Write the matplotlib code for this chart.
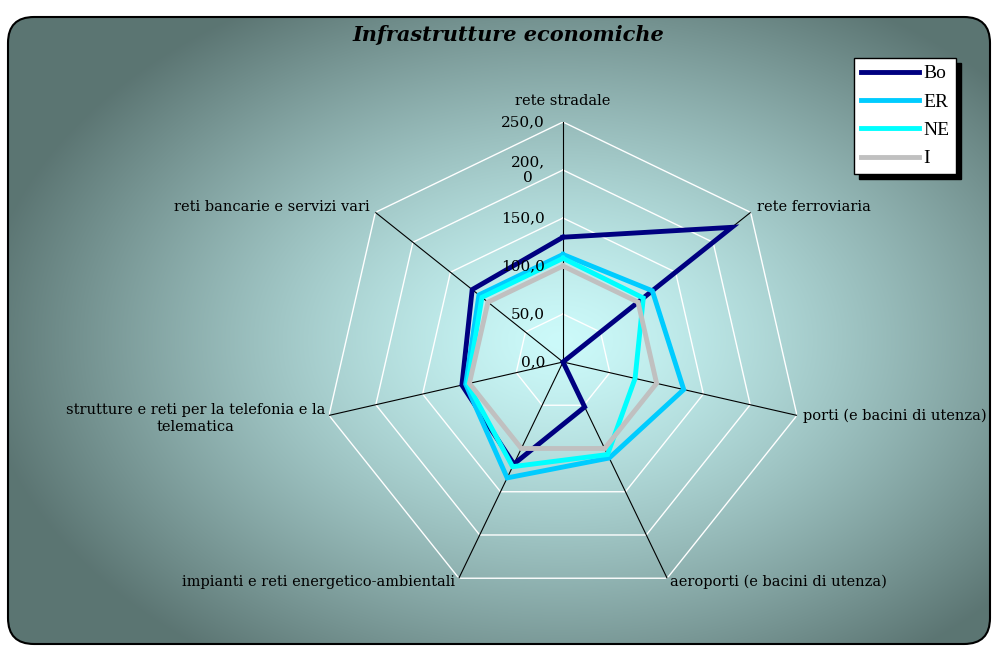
import matplotlib
matplotlib.use("Agg")
import matplotlib.pyplot as plt
from matplotlib.patches import FancyBboxPatch
import numpy as np

# ── Dati ──────────────────────────────────────────
categorie = [
    "rete stradale",
    "rete ferroviaria",
    "porti (e bacini di utenza)",
    "aeroporti (e bacini di utenza)",
    "impianti e reti energetico-ambientali",
    "strutture e reti per la telefonia e la\ntelematica",
    "reti bancarie e servizi vari",
]
bo = [130, 225, 0, 52, 118, 108, 121]
er = [112, 119, 129, 111, 134, 104, 112]
ne = [108, 107, 77, 107, 121, 102, 108]
italia = [100, 100, 100, 100, 100, 100, 100]
serie_nomi = ["Bo", "ER", "NE", "I"]
serie_colori = ["#000080", "#00ccff", "#00ffff", "#c0c0c0"]
anelli = [50, 100, 150, 200, 250]
anelli_label = ["50,0", "100,0", "150,0", "200,\n0", "250,0"]
titolo = "Infrastrutture economiche"

SERIF = "DejaVu Serif"
W, H = 992, 646

fig = plt.figure(figsize=(W / 100, H / 100), dpi=100)
fig.patch.set_facecolor("white")

# ── Sfondo con gradiente radiale ─────────────────
bg = fig.add_axes([0, 0, 1, 1])
bg.set_xlim(0, W)
bg.set_ylim(H, 0)
bg.axis("off")
yy, xx = np.mgrid[0:H, 0:W]
d = np.sqrt(((xx - 560) / 580.0) ** 2 + ((yy - 340) / 390.0) ** 2)
d = np.clip(d, 0, 1)
c_in = np.array([0.80, 0.98, 0.98])
c_out = np.array([0.36, 0.46, 0.45])
t = d[..., None] ** 1.3
img = c_in * (1 - t) + c_out * t
im = bg.imshow(img, extent=(0, W, H, 0), zorder=0)
box = FancyBboxPatch((8, 17), 982, 627,
                     boxstyle="round,pad=0,rounding_size=26",
                     facecolor="none", edgecolor="black", linewidth=1.5, zorder=2)
bg.add_patch(box)
im.set_clip_path(box)

bg.text(508, 35, titolo, ha="center", va="center", fontsize=15,
        fontweight="bold", fontstyle="italic", family=SERIF, color="black")

# ── Radar ────────────────────────────────────────
cx, cy, R = 563, 362, 240
ax = fig.add_axes([(cx - R) / W, 1 - (cy + R) / H, 2 * R / W, 2 * R / H],
                  projection="polar")
ax.set_theta_offset(np.pi / 2)
ax.set_theta_direction(-1)
ax.set_ylim(0, 250)
ax.patch.set_alpha(0)
ax.grid(False)
ax.spines["polar"].set_visible(False)
ax.set_xticks([])
ax.set_yticks([])

n = len(categorie)
angoli = [2 * np.pi * i / n for i in range(n)]
chiuso = angoli + [angoli[0]]

for r in anelli:
    ax.plot(chiuso, [r] * (n + 1), color="white", linewidth=1.0, zorder=1)
for a in angoli:
    ax.plot([a, a], [0, 250], color="black", linewidth=0.8, zorder=1)

for nome, vals, col in zip(serie_nomi, [bo, er, ne, italia], serie_colori):
    ax.plot(chiuso, vals + [vals[0]], color=col, linewidth=3.5, label=nome,
            solid_joinstyle="miter", zorder=3)

for r, lab in zip([0] + anelli, ["0,0"] + anelli_label):
    ax.annotate(lab, xy=(0, r), xytext=(-18, 0), textcoords="offset pixels",
                ha="right", va="center", fontsize=11, family=SERIF,
                multialignment="center", zorder=4)

offsets = [(0, 14), (6, 5), (6, 0), (3, -4), (-4, -4), (-4, -3), (-6, 5)]
allineamenti = [("center", "bottom"), ("left", "center"), ("left", "center"),
                ("left", "center"), ("right", "center"), ("right", "center"),
                ("right", "center")]
for a, lab, off, (ha, va) in zip(angoli, categorie, offsets, allineamenti):
    ax.annotate(lab, xy=(a, 250), xytext=off, textcoords="offset pixels",
                ha=ha, va=va, fontsize=10.5, family=SERIF,
                multialignment="center", annotation_clip=False)

# ── Legenda ──────────────────────────────────────
leg = fig.legend(loc="upper right", bbox_to_anchor=(956 / W, 1 - 58 / H),
                 prop={"family": "Liberation Serif", "size": 14}, fancybox=False,
                 shadow={"color": "black", "alpha": 1, "ox": 3.5, "oy": -3.5},
                 framealpha=1, edgecolor="black", handlelength=3.0,
                 handletextpad=0.2, labelspacing=0.55, borderpad=0.35,
                 borderaxespad=0)
leg.get_frame().set_linewidth(1.0)

fig.savefig("out.png", dpi=100)
